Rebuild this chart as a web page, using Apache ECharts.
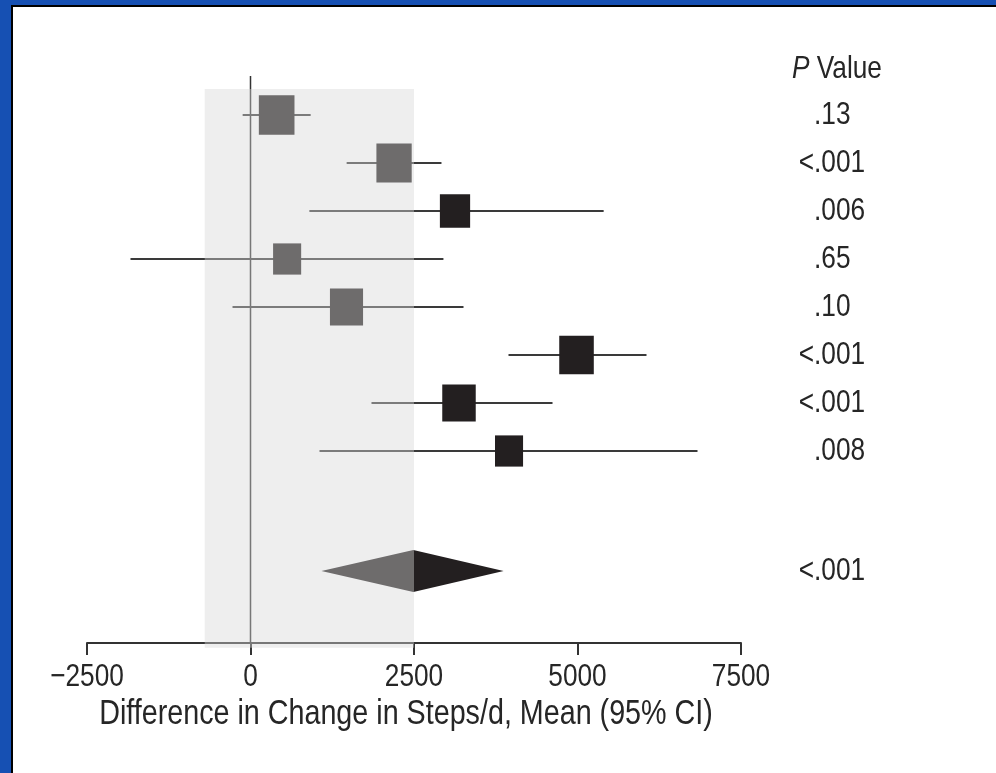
<!DOCTYPE html>
<html>
<head>
<meta charset="utf-8">
<script src="https://cdn.jsdelivr.net/npm/echarts@6/dist/echarts.min.js"></script>
<style>
  html, body { margin: 0; padding: 0; width: 996px; height: 773px; overflow: hidden; background: #1650b3; }
  #panel { position: absolute; left: 11px; top: 5px; right: 0; bottom: 0; background: #fff; border-left: 2px solid #000; border-top: 2px solid #000; }
  #chart { position: absolute; left: 0; top: 0; width: 996px; height: 773px; }
</style>
</head>
<body>
<div id="panel"></div>
<div id="chart"></div>
<script>
// ---- data ----
const means  = [400, 2195, 3127, 560, 1468, 4985, 3188, 3953];
const lower  = [-120, 1470, 900, -1835, -275, 3945, 1850, 1055];
const upper  = [920, 2920, 5400, 2950, 3257, 6055, 4618, 6835];
const weights = [0.99, 0.98, 0.84, 0.78, 0.92, 0.96, 0.93, 0.78];
const pValues = ['.13', '<.001', '.006', '.65', '.10', '<.001', '<.001', '.008'];
const overallMean = 2490;
const overallLower = 1085;
const overallUpper = 3870;
const overallP = '<.001';
const shadedRange = [-700, 2500];
const xTicks = [-2500, 0, 2500, 5000, 7500];
const xTitle = 'Difference in Change in Steps/d, Mean (95% CI)';

// ---- layout helpers ----
const FONT = "'Liberation Sans', Arial, sans-serif";
const SX = 0.82; // condensed text, as in the reference
const TEXT = '#262626';
const DARK = '#231f20';
const rowPos = means.map((_, i) => i + 1);
const overallPos = means.length + 2.5;

const ciData = means.map((m, i) => [lower[i], upper[i], rowPos[i]]);
const boxData = means.map((m, i) => [m, rowPos[i], weights[i]]);
const pData = pValues.map((p, i) => [rowPos[i], p]).concat([[overallPos, overallP]]);

function txt(s, x, y, align, size, extra) {
  return {
    type: 'text', x: x, y: y, scaleX: SX, silent: true,
    style: Object.assign({ text: s, x: 0, y: 0, align: align, verticalAlign: 'middle', fontSize: size, fontFamily: FONT, fill: TEXT }, extra || {})
  };
}

function pText(p, y) {
  const els = [];
  const dotX = 814;
  if (p.startsWith('<')) {
    els.push(txt('<', dotX, y, 'right', 32));
    p = p.slice(1);
  }
  els.push(txt(p, dotX, y, 'left', 32));
  return els;
}

const fmt = v => (v < 0 ? '\u2212' + Math.abs(v) : String(v));

const chart = echarts.init(document.getElementById('chart'), null, { renderer: 'canvas' });
chart.setOption({
  backgroundColor: 'transparent',
  animation: false,
  grid: { left: 87, right: 255, top: 67, bottom: 130, containLabel: false },
  xAxis: {
    type: 'value', min: -2500, max: 7500, interval: 2500,
    splitLine: { show: false },
    axisLine: { show: true, onZero: false, lineStyle: { color: '#333', width: 2 } },
    axisTick: { show: true, inside: false, length: 12, lineStyle: { color: '#333', width: 2 } },
    axisLabel: { show: false }
  },
  yAxis: { type: 'value', min: 0, max: 12, inverse: true, show: false },
  graphic: [
    {
      type: 'text', x: 792, y: 69, scaleX: SX, silent: true,
      style: {
        text: '{i|P} Value', x: 0, y: 0, verticalAlign: 'middle', fontSize: 32, fontFamily: FONT, fill: TEXT,
        rich: { i: { fontStyle: 'italic', fontSize: 32, fontFamily: FONT, fill: TEXT } }
      }
    },
    {
      type: 'text', x: 406, y: 714, scaleX: SX, silent: true,
      style: { text: xTitle, x: 0, y: 0, align: 'center', verticalAlign: 'middle', fontSize: 35, fontFamily: FONT, fill: TEXT }
    }
  ],
  series: [
    { // zero reference line
      type: 'custom', z: 1, silent: true,
      data: [[0]],
      renderItem: (params, api) => {
        const a = api.coord([0, 0.19]);
        const b = api.coord([0, 12]);
        return { type: 'line', shape: { x1: a[0], y1: a[1], x2: b[0], y2: b[1] }, style: { stroke: '#333', lineWidth: 1.5 } };
      }
    },
    { // confidence intervals
      type: 'custom', z: 2, silent: true,
      data: ciData,
      renderItem: (params, api) => {
        const a = api.coord([api.value(0), api.value(2)]);
        const b = api.coord([api.value(1), api.value(2)]);
        return { type: 'line', shape: { x1: a[0], y1: a[1], x2: b[0], y2: b[1] }, style: { stroke: '#3a3a3a', lineWidth: 2 } };
      }
    },
    { // study squares
      type: 'custom', z: 3, silent: true,
      data: boxData,
      renderItem: (params, api) => {
        const c = api.coord([api.value(0), api.value(1)]);
        const w = 36 * api.value(2), h = 40 * api.value(2);
        return { type: 'rect', shape: { x: c[0] - w / 2, y: c[1] - h / 2, width: w, height: h }, style: { fill: DARK } };
      }
    },
    { // overall diamond
      type: 'custom', z: 3, silent: true,
      data: [[overallLower, overallMean, overallUpper, overallPos]],
      renderItem: (params, api) => {
        const y = api.value(3);
        const l = api.coord([api.value(0), y]);
        const m = api.coord([api.value(1), y]);
        const r = api.coord([api.value(2), y]);
        return { type: 'polygon', shape: { points: [[l[0], l[1]], [m[0], m[1] - 21], [r[0], r[1]], [m[0], m[1] + 21]] }, style: { fill: DARK } };
      }
    },
    { // x tick labels
      type: 'custom', z: 4, silent: true,
      data: xTicks.map(v => [v]),
      renderItem: (params, api) => {
        const p = api.coord([api.value(0), 12]);
        return txt(fmt(api.value(0)), p[0], p[1] + 34, 'center', 32);
      }
    },
    { // P values
      type: 'custom', z: 4, silent: true,
      data: pData,
      renderItem: (params, api) => {
        const y = api.coord([0, api.value(0)])[1];
        return { type: 'group', children: pText(pData[params.dataIndex][1], y) };
      }
    },
    { // translucent shaded region on top
      type: 'custom', z: 10, silent: true,
      data: [[shadedRange[0], shadedRange[1]]],
      renderItem: (params, api) => {
        const a = api.coord([api.value(0), 0.458]);
        const b = api.coord([api.value(1), 12.1]);
        return { type: 'rect', shape: { x: a[0], y: a[1], width: b[0] - a[0], height: b[1] - a[1] }, style: { fill: 'rgba(215,215,215,0.42)' } };
      }
    }
  ]
});
</script>
</body>
</html>
